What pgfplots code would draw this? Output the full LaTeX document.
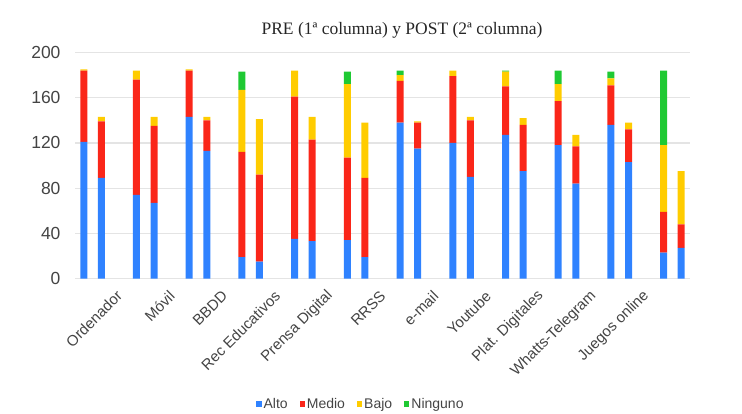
\documentclass[border=0pt]{standalone}
\usepackage{fontspec}
\setmainfont{Liberation Sans}
\newfontfamily\titlefont{Liberation Serif}
\usepackage{pgfplots}
\usepackage{pgfplotstable}
\pgfplotsset{compat=1.18}

\definecolor{alto}{HTML}{2F82FF}
\definecolor{medio}{HTML}{FA2619}
\definecolor{bajo}{HTML}{FFCC00}
\definecolor{ninguno}{HTML}{1FC933}
\definecolor{rejilla}{HTML}{E4E4E4}
\definecolor{texto}{HTML}{444444}

% x: 3k = PRE, 3k+1 = POST
\pgfplotstableread{
x  A   M   B  N
0  121 63  1  0
1  89  50  4  0
3  74  102 8  0
4  67  68  8  0
6  143 41  1  0
7  113 27  3  0
9  19  93  55 16
10 15  77  49 0
12 35  126 23 0
13 33  90  20 0
15 34  73  65 11
16 19  70  49 0
18 138 37  5  4
19 115 23  1  0
21 120 59  5  0
22 90  50  3  0
24 127 43  13 1
25 95  41  6  0
27 118 39  15 12
28 84  33  10 0
30 136 35  6  6
31 103 29  6  0
33 23  36  59 66
34 27  21  47 0
}\datos

\begin{document}
\begin{tikzpicture}
\useasboundingbox (-75bp,-135.5bp) rectangle (667bp,278.5bp);
\begin{axis}[
  at={(0,0)}, anchor=south west,
  scale only axis, width=615bp, height=226bp,
  ybar stacked, bar width=7bp,
  xmin=-0.5, xmax=34.5, ymin=0, ymax=200,
  ytick={0,40,...,200},
  xtick={2,5,...,32},
  xticklabels={Ordenador,Móvil,BBDD,Rec Educativos,Prensa Digital,RRSS,e-mail,Youtube,Plat. Digitales,Whatts-Telegram,Juegos online},
  ymajorgrids,
  major grid style={draw=rejilla, line width=1.2bp},
  axis line style={draw=none},
  major tick length=0pt,
  /pgf/number format/assume math mode=true,
  tick label style={text=texto},
  yticklabel style={font=\fontsize{17.5bp}{19bp}\selectfont, xshift=-11bp},
  xticklabel style={font=\fontsize{15bp}{17bp}\selectfont, xshift=0.5bp, yshift=-15bp, rotate=45, anchor=east, inner sep=0pt},
  legend columns=4,
  legend image code/.code={\fill[#1] (0bp,-2.6bp) rectangle (5.2bp,2.6bp);},
  legend style={draw=none, fill=none, at={(axis description cs:0.465,-0.555)}, anchor=center,
    font=\fontsize{14bp}{16bp}\selectfont, text=texto,
    /tikz/every even column/.append style={column sep=10bp}},
]
\addplot[fill=alto, draw=none] table[x=x, y=A] {\datos};
\addplot[fill=medio, draw=none] table[x=x, y=M] {\datos};
\addplot[fill=bajo, draw=none] table[x=x, y=B] {\datos};
\addplot[fill=ninguno, draw=none] table[x=x, y=N] {\datos};
\legend{Alto,Medio,Bajo,Ninguno}
\end{axis}
\node[anchor=base, font=\titlefont\fontsize{17.5bp}{19bp}\selectfont, text=black!85] at (327bp,243.5bp) {PRE (1ª columna) y POST (2ª columna)};
\end{tikzpicture}
\end{document}
